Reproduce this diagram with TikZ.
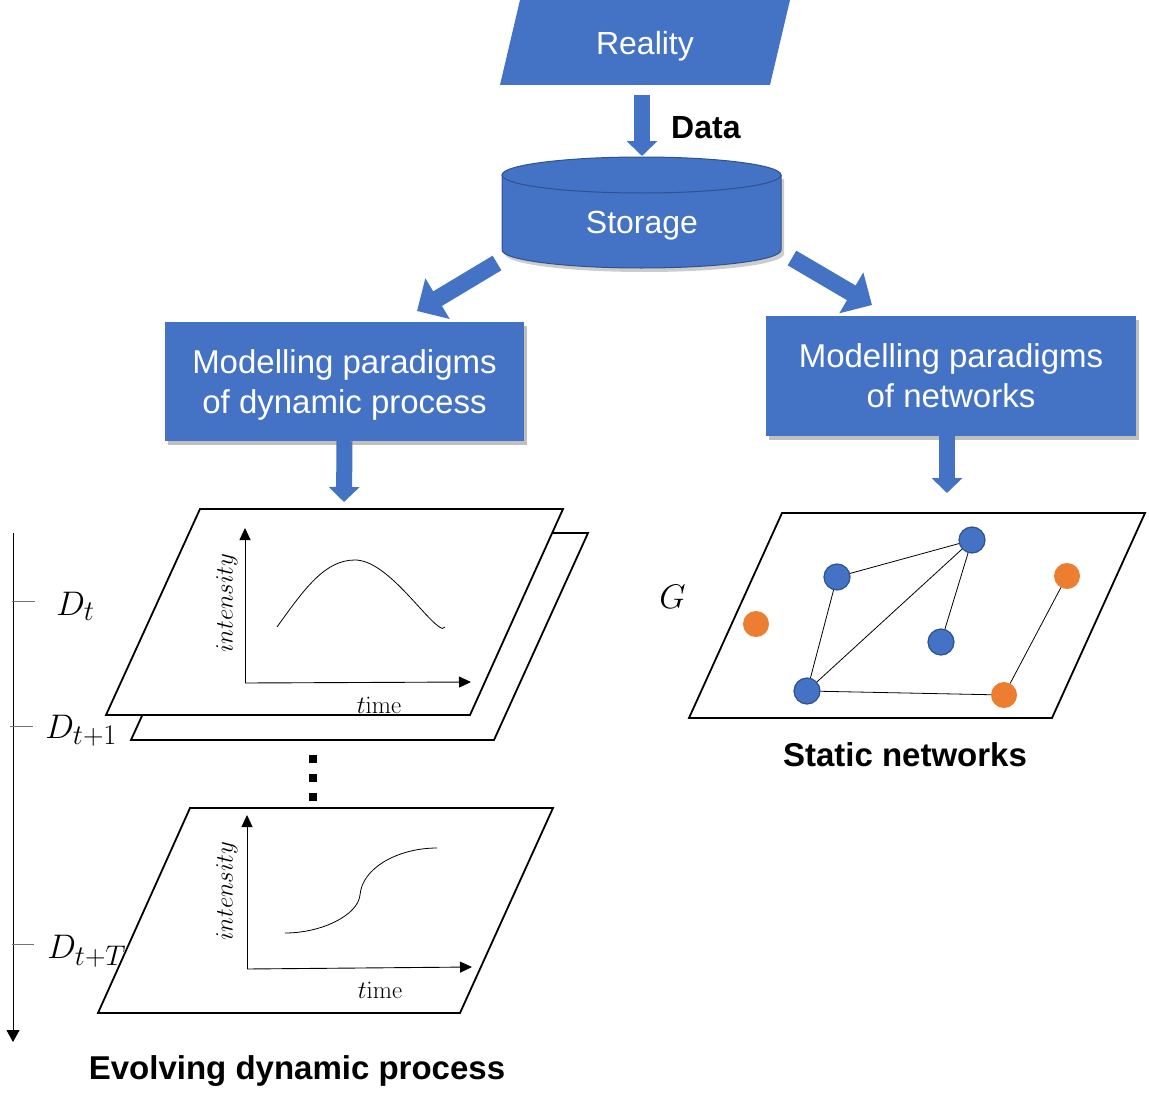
\documentclass[tikz,border=0pt]{standalone}
\usepackage[no-math]{fontspec}
\setmainfont{Liberation Sans}
\usetikzlibrary{arrows.meta,shadows}
\definecolor{mblue}{HTML}{4472C4}
\definecolor{mdark}{HTML}{2F528F}
\definecolor{morange}{HTML}{ED7D31}
\begin{document}
\begin{tikzpicture}[x=1pt,y=-1pt,
  bluebox/.style={rectangle, fill=mblue, inner sep=0,
    drop shadow={shadow xshift=3pt, shadow yshift=-4pt, fill=black, opacity=0.25}},
  boxtext/.style={text=white, align=center, font=\fontsize{33}{40}\selectfont, inner sep=0},
  whitetext/.style={text=white, font=\fontsize{32}{38}\selectfont, inner sep=0, anchor=base},
  blockarrow/.style={draw=mblue, line width=16pt, -{Triangle[width=30pt,length=15pt]}},
  bigarrow/.style={draw=mblue, line width=17pt, -{Triangle[width=46pt,length=24pt]}},
  plane/.style={draw=black, line width=1.8pt, fill=white, line join=miter},
  axis/.style={line width=0.9pt, -{Triangle[width=11pt,length=12pt]}},
  curve/.style={line width=0.8pt},
  bluedot/.style={circle, fill=mblue, draw=mdark, line width=1.2pt, minimum size=26pt, inner sep=0},
  orangedot/.style={circle, fill=morange, minimum size=26pt, inner sep=0},
  netedge/.style={line width=0.8pt},
  mathlabel/.style={font=\fontsize{24.88}{30}\selectfont, scale=1.37, transform shape, inner sep=0, anchor=base west},
  smalllabel/.style={font=\fontsize{24.88}{30}\selectfont, inner sep=0},
  titletext/.style={font=\bfseries\fontsize{33}{40}\selectfont, inner sep=0, anchor=base},
  tick/.style={line width=0.8pt, draw=black!55}
]
\useasboundingbox (0,0) rectangle (1149,1108);

% Reality
\fill[mblue] (500,85) -- (520,0) -- (790,0) -- (770,85) -- cycle;
\node[whitetext] (reality) at (645,55) {Reality};

% Data arrow
\coordinate (d1) at (642,95);
\coordinate (d2) at (642,156);
\draw[blockarrow] (d1) -- (d2);
\node[titletext, anchor=base west, font=\bfseries\fontsize{32}{38}\selectfont] (data) at (671,138) {Data};

% Storage cylinder
\fill[black, opacity=0.2] (505,179) -- (505,254) arc[start angle=180, end angle=360, x radius=139.5pt, y radius=18pt] -- (784,179) -- cycle;
\filldraw[fill=mblue, draw=mdark, line width=1pt] (502,175) -- (502,250) arc[start angle=180, end angle=360, x radius=139.5pt, y radius=18pt] -- (781,175) -- cycle;
\filldraw[fill=mblue, draw=mdark, line width=1pt] (641.5,175) ellipse[x radius=139.5pt, y radius=18pt];
\node[whitetext] (storage) at (642,233) {Storage};

% diagonal arrows
\coordinate (sl) at (497,263);
\coordinate (tl) at (417,311);
\draw[bigarrow] (sl) -- (tl);
\coordinate (sr) at (792,258);
\coordinate (tr) at (872,305);
\draw[bigarrow] (sr) -- (tr);

% boxes
\node[bluebox, minimum width=359pt, minimum height=119pt] (leftbox) at (344.5,381.5) {};
\node[boxtext] (lefttext) at (344.5,384.5) {Modelling paradigms\\of dynamic process};
\node[bluebox, minimum width=370pt, minimum height=120pt] (rightbox) at (951,376) {};
\node[boxtext] (righttext) at (951,376) {Modelling paradigms\\of networks};

\coordinate (lefttarget) at (344,502);
\draw[blockarrow] (leftbox.south) -- (lefttarget);
\coordinate (righttarget) at (947,493);
\draw[blockarrow] (rightbox.south -| righttarget) -- (righttarget);

% time axis
\coordinate (ta) at (13,533);
\coordinate (tb) at (13,1042);
\draw[line width=1pt, -{Triangle[width=13pt,length=12pt]}] (ta) -- (tb);
\draw[tick] (12,601) -- (35,601);
\draw[tick] (10,726) -- (33,726);
\draw[tick] (12,944) -- (34,944);
\node[mathlabel] (dt) at (56,615) {$D_t$};
\node[mathlabel] (dt1) at (45,738) {$D_{t+1}$};
\node[mathlabel] (dtT) at (47,958) {$D_{t+T}$};

% planes left
\draw[plane] (131,740) -- (225,533) -- (588,533) -- (494,740) -- cycle;
\draw[plane] (106,715) -- (200,509) -- (563,509) -- (470,715) -- cycle;
\draw[plane] (98,1013) -- (190,808) -- (553,808) -- (460,1013) -- cycle;

% first plot
\coordinate (o1) at (245,683);
\coordinate (y1) at (245,528);
\coordinate (x1) at (471,682);
\draw[axis] (o1) -- (y1);
\draw[axis] (o1) -- (x1);
\draw[curve] (277,627) .. controls (305,588) and (325,560) .. (355,560)
  .. controls (385,560) and (420,612) .. (438,626)
  .. controls (442,629) and (444,629) .. (445,627);
\node[smalllabel, rotate=90] (int1) at (227,603) {$intensity$};
\node[smalllabel] (time1) at (379,705) {$t\mathrm{ime}$};

% dots
\draw[line width=8pt, dash pattern=on 8pt off 11pt] (313,755) -- (313,801);

% second plot
\coordinate (o2) at (247,969);
\coordinate (y2) at (247,815);
\coordinate (x2) at (472,967);
\draw[axis] (o2) -- (y2);
\draw[axis] (o2) -- (x2);
\draw[curve] (285,933) .. controls (322,933) and (358,915) .. (360,895)
  .. controls (362,868) and (398,848) .. (437,848);
\node[smalllabel, rotate=90] (int2) at (227,891) {$intensity$};
\node[smalllabel] (time2) at (380,990) {$t\mathrm{ime}$};

\node[titletext] (evolving) at (297,1079) {Evolving dynamic process};

% network plane
\draw[plane] (689,718) -- (782,513) -- (1145,513) -- (1052,718) -- cycle;
\node[mathlabel] (G) at (659,608) {$G$};
\node[bluedot] (b1) at (837,577) {};
\node[bluedot] (b2) at (972,540) {};
\node[bluedot] (b3) at (941,642) {};
\node[bluedot] (b4) at (807,691) {};
\node[orangedot] (o1n) at (756,624) {};
\node[orangedot] (o2n) at (1067,576) {};
\node[orangedot] (o3n) at (1004,695) {};
\draw[netedge] (b1) -- (b2);
\draw[netedge] (b1) -- (b4);
\draw[netedge] (b4) -- (b2);
\draw[netedge] (b2) -- (b3);
\draw[netedge] (b4) -- (o3n);
\draw[netedge] (o2n) -- (o3n);
\node[titletext] (static) at (905,766) {Static networks};
\end{tikzpicture}
\end{document}
